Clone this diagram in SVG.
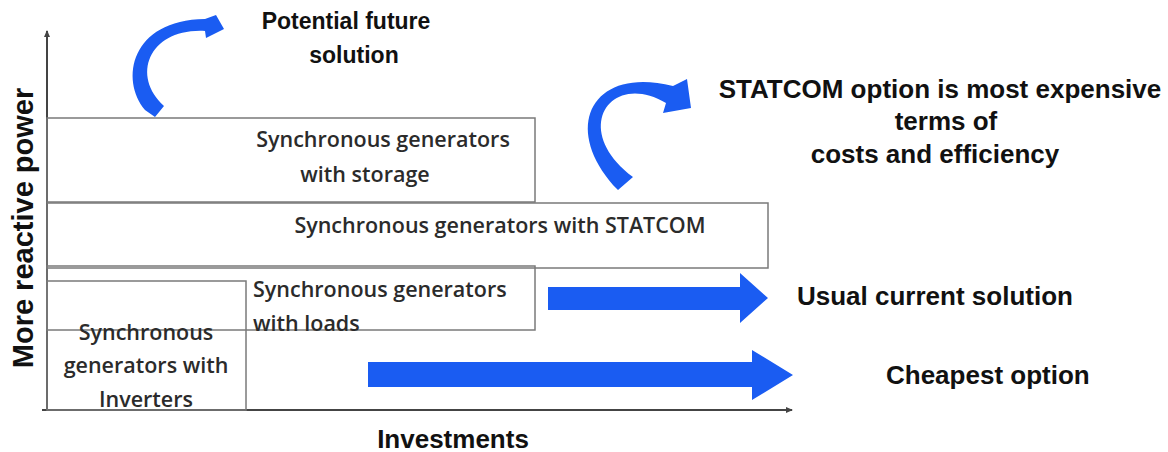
<svg xmlns="http://www.w3.org/2000/svg" width="1168" height="452" viewBox="0 0 1168 452">
<style>
.box{fill:none;stroke:#7a7a7a;stroke-width:1.5}
.bt{font-family:"Open Sans","Liberation Sans",sans-serif;font-size:21.5px;font-weight:600;fill:#2b2b2b}
.lb{font-family:"Liberation Sans",Arial,sans-serif;font-weight:bold;font-size:26px;fill:#111}
.axis{stroke:#444;stroke-width:2;fill:none}
.blue{fill:#1a5cf2}
</style>
<defs>
<marker id="ah" markerWidth="8" markerHeight="8" refX="6" refY="4" orient="auto" markerUnits="userSpaceOnUse">
<path d="M0,1 L7,4 L0,7 Z" fill="#444"/>
</marker>
</defs>
<rect width="1168" height="452" fill="#fff"/>
<g id="axes">
<line class="axis" x1="47" y1="410" x2="47" y2="31" marker-end="url(#ah)"/>
<line class="axis" x1="42" y1="410" x2="792" y2="410" marker-end="url(#ah)"/>
</g>
<g id="node-storage">
<rect class="box" x="47" y="118" width="488" height="84"/>
<text class="bt" x="383" y="147" text-anchor="middle">Synchronous generators</text>
<text class="bt" x="365" y="182" text-anchor="middle">with storage</text>
</g>
<g id="node-statcom">
<rect class="box" x="47" y="203" width="721" height="65"/>
<text class="bt" x="500" y="233" text-anchor="middle">Synchronous generators with STATCOM</text>
</g>
<g id="node-loads">
<rect class="box" x="47" y="266" width="488" height="64"/>
<text class="bt" x="253" y="297">Synchronous generators</text>
<text class="bt" x="253" y="331">with loads</text>
</g>
<g id="node-inverters">
<rect class="box" x="47" y="281" width="199" height="129"/>
<text class="bt" x="146" y="340" text-anchor="middle">Synchronous</text>
<text class="bt" x="146" y="373" text-anchor="middle">generators with</text>
<text class="bt" x="146" y="407" text-anchor="middle">Inverters</text>
</g>
<g id="connectors">
<path class="blue" d="M145,110 C120,80 130,20 205,19 L216,15 L224,29 L206,38 L205,31 C150,28 130,75 164,106 L155,117 Z"/>
<path class="blue" d="M618,190 C560,130 590,65 673,86 L687,79 L691,108 L663,113 L666,103 C610,70 570,130 633,177 Z"/>
<path class="blue" d="M548,287 H740 V273 L768,298 L740,323 V310 H548 Z"/>
<path class="blue" d="M368,362 H752 V350 L793,375 L752,400 V387 H368 Z"/>
</g>
<g id="labels">
<text class="lb" transform="translate(33,228) rotate(-90)" text-anchor="middle" style="font-size:29px">More reactive power</text>
<text class="lb" x="453" y="448" text-anchor="middle">Investments</text>
<text class="lb" x="346" y="29" text-anchor="middle" style="font-size:23px">Potential future</text>
<text class="lb" x="354" y="63" text-anchor="middle" style="font-size:23px">solution</text>
<text class="lb" x="940" y="98" text-anchor="middle">STATCOM option is most expensive</text>
<text class="lb" x="946" y="130" text-anchor="middle">terms of</text>
<text class="lb" x="935" y="163" text-anchor="middle">costs and efficiency</text>
<text class="lb" x="797" y="305">Usual current solution</text>
<text class="lb" x="886" y="384">Cheapest option</text>
</g>
</svg>
